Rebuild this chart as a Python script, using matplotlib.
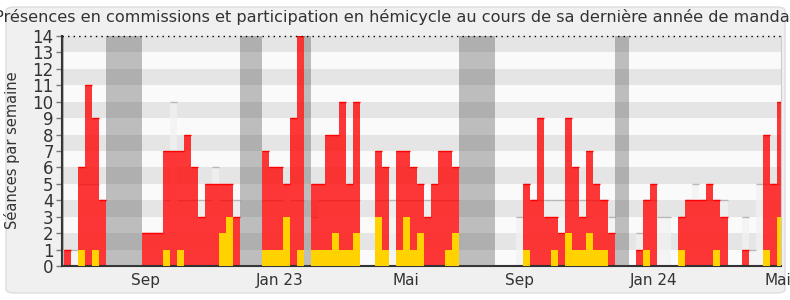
import numpy as np
import matplotlib
matplotlib.use("Agg")
import matplotlib.pyplot as plt
from matplotlib.patches import FancyBboxPatch
from matplotlib.transforms import ScaledTranslation

# weekly values, week 0 = first visible week
commissions = [1, 0, 6, 11, 9, 4, 0, 0, 0, 0,
               0, 2, 2, 2, 7, 7, 7, 8, 6, 3,
               5, 5, 5, 5, 3, 0, 0, 0, 7, 6,
               6, 5, 9, 14, 0, 5, 5, 8, 8, 10,
               5, 10, 0, 0, 7, 6, 0, 7, 7, 6,
               5, 3, 5, 7, 7, 6, 0, 0, 0, 0,
               0, 0, 0, 0, 0, 5, 4, 9, 3, 3,
               2, 9, 6, 3, 7, 5, 4, 2, 0, 0,
               0, 1, 4, 5, 0, 0, 0, 3, 4, 4,
               4, 5, 4, 3, 0, 0, 1, 0, 0, 8,
               5, 10]
hemicycle = [0, 0, 1, 0, 1, 0, 0, 0, 0, 0,
             0, 0, 0, 0, 1, 0, 1, 0, 0, 0,
             0, 0, 2, 3, 0, 0, 0, 0, 1, 1,
             1, 3, 0, 1, 0, 1, 1, 1, 2, 1,
             1, 2, 0, 0, 3, 1, 0, 1, 3, 1,
             2, 0, 0, 0, 1, 2, 0, 0, 0, 0,
             0, 0, 0, 0, 0, 1, 0, 0, 0, 1,
             0, 2, 1, 1, 2, 1, 1, 0, 0, 0,
             0, 0, 1, 0, 0, 0, 0, 1, 0, 0,
             0, 0, 1, 0, 0, 0, 0, 0, 0, 1,
             0, 3]
mediane = [1, 1, 5, 5, 5, 4, 0, 0, 0, 0,
           0, 2, 2, 2, 4, 10, 4, 4, 4, 4,
           4, 6, 4, 4, 4, 0, 0, 0, 4, 4,
           4, 5, 4, 4, 0, 3, 4, 4, 4, 4,
           4, 4, 0, 0, 4, 4, 4, 4, 4, 4,
           4, 4, 4, 4, 4, 4, 0, 0, 0, 0,
           0, 0, 0, 0, 3, 5, 4, 4, 4, 4,
           4, 4, 4, 4, 4, 4, 4, 3, 0, 0,
           0, 2, 4, 4, 3, 3, 0, 3, 4, 5,
           4, 4, 4, 4, 0, 0, 3, 1, 5, 5,
           5, 5]
vacances = [-1, 6, 7, 8, 9, 10, 25, 26, 27, 34, 56, 57, 58, 59, 60, 78, 79]
tick_weeks = [11, 30, 48, 64, 83, 101]
tick_labels = ["Sep", "Jan 23", "Mai", "Sep", "Jan 24", "Mai"]

weeks = np.arange(len(commissions))

fig = plt.figure(figsize=(7.9, 3.0), dpi=100)
fig.patch.set_facecolor("white")
fig.patches.append(FancyBboxPatch((6 / 790, 7 / 300), 779 / 790, 286 / 300,
                                  boxstyle="round,pad=0,rounding_size=0.012",
                                  transform=fig.transFigure, facecolor="#f0f0f0",
                                  edgecolor="#dddddd", lw=1, zorder=-10))

ax = fig.add_axes([62 / 790, 34 / 300, 718.5 / 790, 230 / 300])
ax.set_facecolor("#fafafa")

# alternating horizontal bands
for y in range(1, 14, 2):
    ax.axhspan(y, y + 1, color="#e5e5e5", lw=0, zorder=0)

# median of deputies (light bars with a grey top)
ax.bar(weeks, mediane, width=1, color="#f2f2f2", alpha=0.75, lw=0, zorder=1)
med = np.array(mediane, dtype=float)
ax.hlines(med[med > 0], weeks[med > 0] - 0.5, weeks[med > 0] + 0.5,
          color="#a8a8a8", lw=1, alpha=0.8, zorder=1.5)

# commissions + hemicycle
ax.bar(weeks, commissions, width=1, color="#ff0000", alpha=0.78, lw=0, zorder=2)
com = np.array(commissions, dtype=float)
ax.hlines(com[com > 0], weeks[com > 0] - 0.5, weeks[com > 0] + 0.5,
          color="#ff0000", lw=1, zorder=2.5)
ax.bar(weeks, hemicycle, width=1, color="#ffd200", lw=0, zorder=3)

# vacations
for v in vacances:
    ax.axvspan(v - 0.5, v + 0.5, color="#4c4c4c", alpha=0.35, lw=0, zorder=4)

ax.set_xlim(-0.78, 101.0)
ax.set_ylim(0, 14)
ax.set_yticks(range(0, 15))
ax.set_xticks(tick_weeks)
ax.set_xticklabels(tick_labels)

ax.tick_params(axis="y", length=4, width=1, color="#777777", pad=2,
               labelsize=12, labelcolor="#333333")
ax.tick_params(axis="x", length=0, pad=5, labelsize=11, labelcolor="#333333")
last = ax.get_xticklabels()[-1]
last.set_transform(last.get_transform() + ScaledTranslation(-0.025, 0, fig.dpi_scale_trans))

for s in ["left", "bottom"]:
    ax.spines[s].set_color("#333333")
    ax.spines[s].set_linewidth(1.5)
ax.spines["right"].set_color("#cccccc")
ax.spines["top"].set_visible(False)
ax.axhline(14, color="black", lw=1, ls=(0, (1, 3)), zorder=6, clip_on=False)

fig.text(0.5, 1 - 17 / 300,
         "Présences en commissions et participation en hémicycle au cours de sa dernière année de mandat",
         ha="center", va="center", fontsize=11.65, color="#333333")
fig.text(12 / 790, 0.5, "Séances par semaine", rotation=90,
         ha="center", va="center", fontsize=10.5, color="#333333")

fig.savefig("out.png", dpi=100, facecolor=fig.get_facecolor())
